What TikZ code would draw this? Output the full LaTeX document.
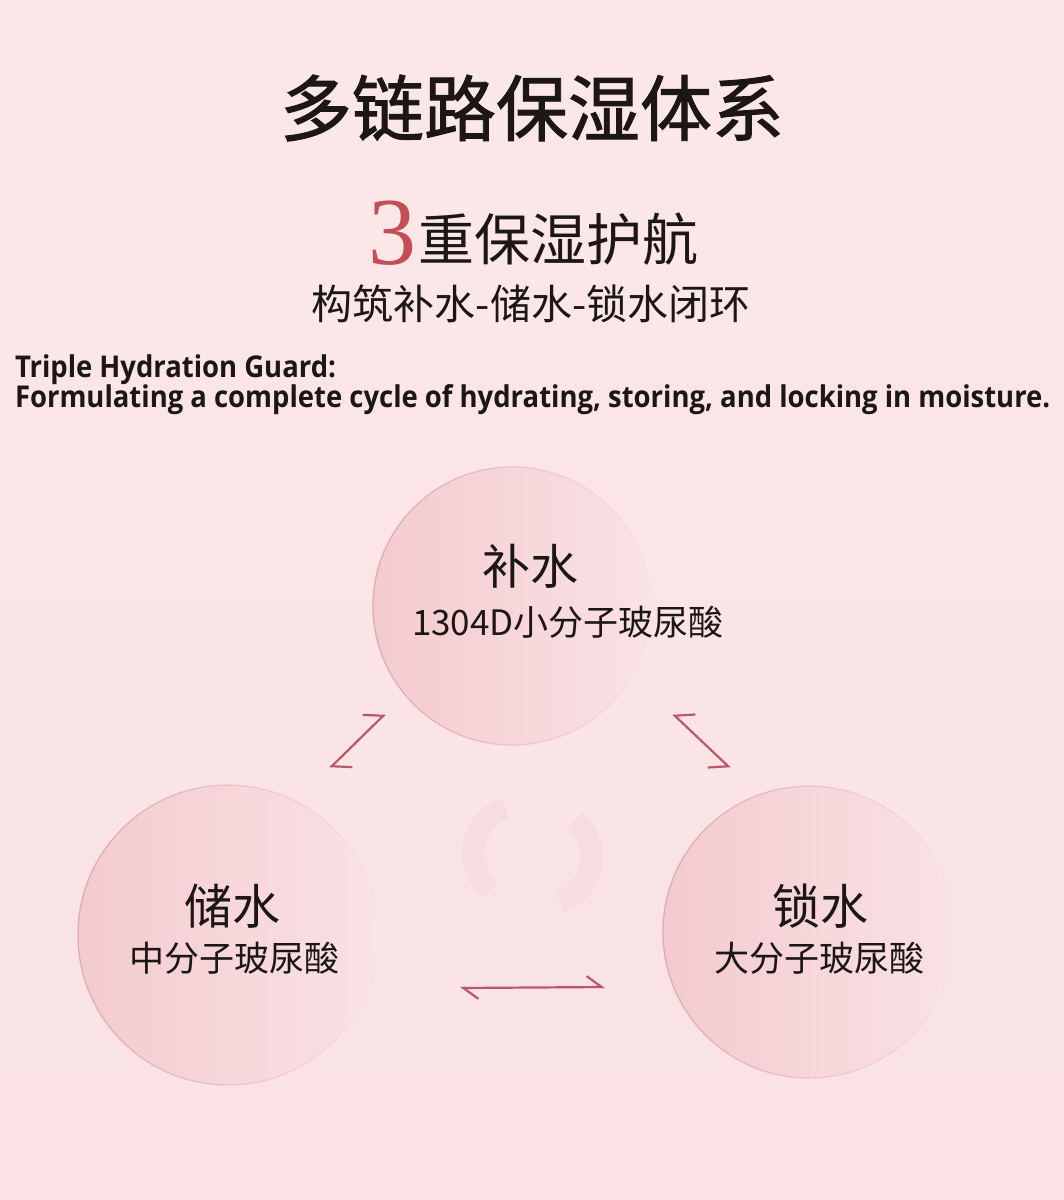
\documentclass[tikz,border=0pt]{standalone}
\usepackage{fontspec}
\setmainfont{Open Sans}
\newfontfamily\cjk{Noto Sans CJK SC}
\newfontfamily\cjktitle[FakeBold=1.3]{Noto Sans CJK SC}
\newfontfamily\engfont[FakeStretch=0.915]{Open Sans Bold}
\newfontfamily\numfont{Liberation Serif}
\usetikzlibrary{arrows.meta,fadings}

\newlength{\du}
\setlength{\du}{1pt}

\definecolor{bgtop}{RGB}{251,231,233}
\definecolor{bgbottom}{RGB}{250,226,229}
\definecolor{bubbleleft}{RGB}{243,203,206}
\definecolor{bubbleright}{RGB}{250,226,229}
\definecolor{bubbleedge}{RGB}{226,172,180}
\definecolor{arrowcolor}{RGB}{186,88,104}
\definecolor{inkcolor}{RGB}{28,22,22}
\definecolor{threecolor}{RGB}{196,78,84}
\definecolor{swirlcolor}{RGB}{238,196,202}

\tikzset{
  bubble/.style={circle, inner sep=0pt, outer sep=0pt, minimum size=#1, left color=bubbleleft, right color=bubbleright},
  rim/.style={draw=bubbleedge, line width=1.4\du, path fading=east},
  swirl/.style={draw=swirlcolor, line width=22\du, line cap=butt, opacity=0.2},
  harp/.style={draw=arrowcolor, line width=2.2\du, line cap=round,
    {Straight Barb[harpoon, length=14pt, width=30pt]}-{Straight Barb[harpoon, length=14pt, width=30pt]}},
  harpswap/.style={harp, {Straight Barb[harpoon, swap, length=14pt, width=30pt]}-{Straight Barb[harpoon, swap, length=14pt, width=30pt]}},
  flat/.style={harp, {Straight Barb[harpoon, length=15pt, width=22pt]}-{Straight Barb[harpoon, length=15pt, width=22pt]}},
  head/.style={anchor=center, inner sep=0pt, outer sep=0pt, color=inkcolor, font=\cjk\fontsize{48\du}{52\du}\selectfont},
  sub/.style={anchor=center, inner sep=0pt, outer sep=0pt, color=inkcolor, font=\cjk\fontsize{35\du}{40\du}\selectfont},
  eng/.style={anchor=base west, inner sep=0pt, outer sep=0pt, color=inkcolor, font=\engfont\fontsize{30\du}{30\du}\selectfont}
}

\begin{document}
\begin{tikzpicture}
\pgftransformxscale{1.000000}
\pgftransformyscale{-1.000000}
% background
\shade[top color=bgtop, bottom color=bgbottom] (0\du,0\du) rectangle (1064\du,1200\du);
\useasboundingbox (0\du,0\du) rectangle (1064\du,1200\du);

% headings
\node[anchor=center, inner sep=0pt, color=inkcolor, font=\cjktitle\fontsize{72\du}{76\du}\selectfont] (title) at (532\du,108\du) {多链路保湿体系};
\node[anchor=base west, inner sep=0pt, color=threecolor, font=\numfont\fontsize{96\du}{100\du}\selectfont] (three) at (368\du,264\du) {3};
\node[anchor=base west, inner sep=0pt, color=inkcolor, font=\cjk\fontsize{56\du}{60\du}\selectfont] (guard) at (418\du,260\du) {重保湿护航};
\node[anchor=center, inner sep=0pt, color=inkcolor, font=\cjk\fontsize{41\du}{44\du}\selectfont] (cycle) at (531\du,304\du) {构筑补水-储水-锁水闭环};

% setfont left to latex
\node[eng] (eng1) at (15\du,377\du) {Triple Hydration Guard:};
\node[eng] (eng2) at (15\du,407\du) {Formulating a complete cycle of hydrating, storing, and locking in moisture.};

% faint swirl in the middle
\draw[swirl] (505\du,808\du) arc (-110:-230:48\du);
\draw[swirl] (560\du,902\du) arc (70:-50:48\du);

% circles
\node[bubble=278\du] (bu) at (512\du,606\du) {};
\node[bubble=300\du] (chu) at (228\du,935\du) {};
\node[bubble=292\du] (suo) at (809\du,932\du) {};
\draw[rim] (512\du,606\du) circle (139\du);
\draw[rim] (228\du,935\du) circle (150\du);
\draw[rim] (809\du,932\du) circle (146\du);

\node[head] (buname) at (530\du,566\du) {补水};
\node[sub] (bumol) at (568\du,622\du) {1304D小分子玻尿酸};
\node[head] (chuname) at (232\du,906\du) {储水};
\node[sub] (chumol) at (234\du,958\du) {中分子玻尿酸};
\node[head] (suoname) at (820\du,906\du) {锁水};
\node[sub] (suomol) at (819\du,958\du) {大分子玻尿酸};

% arrows
\coordinate (cb1) at (330\du,768\du);
\coordinate (cb2) at (385\du,714\du);
\coordinate (bs1) at (673\du,714\du);
\coordinate (bs2) at (730\du,768\du);
\coordinate (sc1) at (460\du,988\du);
\coordinate (sc2) at (605\du,987\du);
\draw[harp] (cb1) -- (cb2);
\draw[harpswap] (bs1) -- (bs2);
\draw[flat] (sc1) -- (sc2);
\end{tikzpicture}
\end{document}
